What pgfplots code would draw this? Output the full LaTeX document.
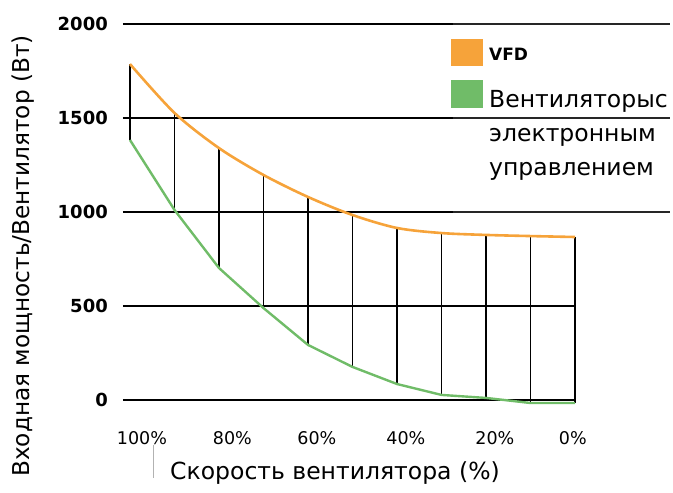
\documentclass[border=0pt]{standalone}
\usepackage{fontspec}
\setmainfont{DejaVu Sans}
\usepackage{pgfplots}
\pgfplotsset{compat=1.18}
\usepackage{pgfplotstable}

\definecolor{vfd}{RGB}{246,163,58}
\definecolor{ec}{RGB}{112,188,104}

% i = position of each vertical line, o = VFD, g = EC fan
\pgfplotstableread{
i  o     g
0  1787  1383
1  1527  1011
2  1340  702
3  1197  489
4  1080  293
5  984   176
6  915   85
7  888   27
8  878   11
9  872   -16
10 867   -16
}\fandata

\begin{document}
\begin{tikzpicture}
\path[use as bounding box] (0pt,0pt) rectangle (673pt,493pt);
\begin{axis}[
    at={(123pt,93pt)}, anchor=south west,
    scale only axis,
    width=452pt, height=376pt,
    xmin=-0.157, xmax=10,
    ymin=0, ymax=2000,
    clip=false,
    axis line style={draw=none},
    tick style={draw=none},
    ytick={0,500,1000,1500,2000},
    xtick={0.27,2.3,4.2,6.2,8.2,9.95},
    xticklabels={100\%,80\%,60\%,40\%,20\%,0\%},
    /pgf/number format/assume math mode=true,
    /pgf/number format/1000 sep={},
    yticklabel style={anchor=east, inner sep=0pt, xshift=-15pt,
        font=\bfseries\fontsize{18}{18}\selectfont},
    xticklabel style={anchor=base, inner sep=0pt, yshift=-45pt,
        font=\fontsize{17.5}{17.5}\selectfont},
]
% grid lines
\draw[black, line width=1.1pt] (axis cs:-0.157,0) -- (axis cs:10,0);
\draw[black, line width=1.1pt] (axis cs:-0.157,500) -- (axis cs:10,500);
\pgfplotsinvokeforeach{1000,1500,2000}{
  \draw[black, line width=1.1pt] (axis cs:-0.157,#1) -- (axis cs:12.13,#1);
  \draw[black!85, line width=2pt] (axis cs:7.25,#1) -- (axis cs:12.13,#1);
}
% vertical connectors
\addplot[draw=none, no markers,
    error bars/.cd, y dir=plus, y explicit, error mark=none,
    error bar style={black, line width=1.3pt}]
    table[x=i, y=g, y error expr=\thisrow{o}-\thisrow{g}] {\fandata};
% curves
\addplot[ec, line width=2.4pt, no markers] table[x=i, y=g] {\fandata};
\addplot[vfd, line width=2.6pt, no markers, smooth] table[x=i, y=o] {\fandata};
\end{axis}

% legend
\fill[vfd] (451pt,454pt) rectangle (483pt,427pt);
\fill[ec] (451pt,413pt) rectangle (483pt,385pt);
\node[anchor=west, inner sep=0pt, font=\bfseries\fontsize{17}{17}\selectfont] at (489pt,439pt) {VFD};
\node[anchor=base west, inner sep=0pt, font=\fontsize{23.5}{23.5}\selectfont] at (489pt,385pt) {Вентиляторыс};
\node[anchor=base west, inner sep=0pt, font=\fontsize{23.5}{23.5}\selectfont] at (489pt,351pt) {электронным};
\node[anchor=base west, inner sep=0pt, font=\fontsize{23.5}{23.5}\selectfont] at (489pt,317pt) {управлением};

% axis titles
\node[font=\fontsize{23.5}{23.5}\selectfont] at (335pt,20pt) {Скорость вентилятора (\%)};
\node[rotate=90, font=\fontsize{23.2}{23.2}\selectfont] at (23pt,237pt) {Входная мощность/Вентилятор (Вт)};
\draw[gray!60, line width=1pt] (153pt,48pt) -- (153pt,15pt);
\end{tikzpicture}
\end{document}
